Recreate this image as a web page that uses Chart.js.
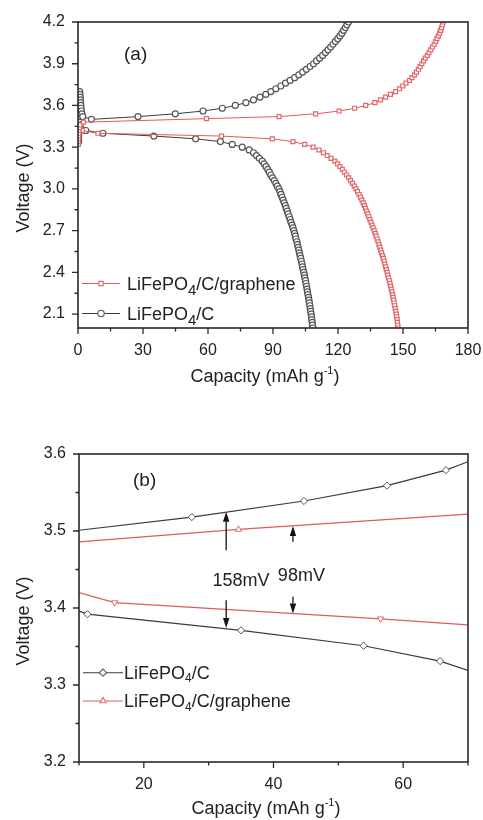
<!DOCTYPE html>
<html><head><meta charset="utf-8">
<script src="https://cdn.jsdelivr.net/npm/chart.js@4.4.0/dist/chart.umd.min.js"></script>
<style>
html,body{margin:0;padding:0;background:#fff;}
#wrap{position:relative;width:483px;height:820px;overflow:hidden;background:#fff;}
canvas{position:absolute;left:0;display:block;}
#ca{top:0;}
#cb{top:400px;}
</style></head><body>
<div id="wrap">
<canvas id="ca" width="483" height="400"></canvas>
<canvas id="cb" width="483" height="420"></canvas>
</div>
<script>
// ---------------- Panel (a) data ----------------
const aXTicks = [0, 30, 60, 90, 120, 150, 180];
const aXMinor = [15, 45, 75, 105, 135, 165];
const aYTicks = [2.1, 2.4, 2.7, 3.0, 3.3, 3.6, 3.9, 4.2];
const aYMinor = [2.25, 2.55, 2.85, 3.15, 3.45, 3.75, 4.05];

const aGrapheneChargeCap = [0.2,0.2,0.3,0.3,0.4,0.5,0.7,1.0,2.5,59.3,92.8,109.7,120.5,127.7,132.8,137.0,139.6,142.0,144.2,146.6,148.4,149.9,151.4,153.0,154.2,155.3,156.2,157.1,157.9,158.7,159.5,160.3,161.2,162.0,162.8,163.6,164.4,165.1,165.7,166.3,166.9,167.4,167.8,168.2,168.5];
const aGrapheneChargeV = [3.32,3.34,3.36,3.38,3.40,3.42,3.44,3.46,3.48,3.505,3.52,3.54,3.56,3.58,3.60,3.62,3.64,3.66,3.68,3.70,3.72,3.74,3.76,3.78,3.80,3.82,3.84,3.86,3.88,3.90,3.92,3.94,3.96,3.98,4.00,4.02,4.04,4.06,4.08,4.10,4.12,4.14,4.16,4.18,4.20];

const aGrapheneDischargeCap = [0.4,2.0,9.2,66.2,89.7,99.2,104.6,108.5,111.2,113.3,115.0,116.8,118.6,119.8,120.9,122.0,123.0,124.0,124.9,125.8,126.7,127.5,128.3,129.0,129.7,130.4,131.0,131.6,132.2,132.7,133.2,133.7,134.2,134.7,135.2,135.7,136.2,136.7,137.2,137.6,138.1,138.5,138.9,139.3,139.7,140.1,140.5,140.9,141.3,141.6,142.0,142.3,142.7,143.0,143.3,143.7,144.0,144.3,144.6,144.9,145.2,145.4,145.7,145.9,146.2,146.4,146.7,146.9,147.1,147.3,147.4,147.6,147.7];
const aGrapheneDischargeV = [3.44,3.42,3.40,3.38,3.36,3.34,3.32,3.30,3.28,3.26,3.24,3.22,3.20,3.18,3.16,3.14,3.12,3.10,3.08,3.06,3.04,3.02,3.00,2.98,2.96,2.94,2.92,2.90,2.88,2.86,2.84,2.82,2.80,2.78,2.76,2.74,2.72,2.70,2.68,2.66,2.64,2.62,2.60,2.58,2.56,2.54,2.52,2.50,2.48,2.46,2.44,2.42,2.40,2.38,2.36,2.34,2.32,2.30,2.28,2.26,2.24,2.22,2.20,2.18,2.16,2.14,2.12,2.10,2.08,2.06,2.04,2.02,2.00];

const aCarbonChargeCap = [0.3,0.3,0.3,0.4,0.4,0.4,0.4,0.5,0.5,0.5,0.5,0.6,0.6,0.6,0.6,0.7,0.7,0.7,0.8,0.9,1.0,1.1,1.2,1.3,1.4,1.6,1.8,2.2,6.2,27.7,44.9,57.7,66.6,72.6,77.5,81.0,84.0,86.7,89.0,91.3,93.6,95.8,97.9,100.0,101.9,103.7,105.4,107.1,108.7,110.1,111.5,112.9,114.2,115.4,116.6,117.7,118.8,119.9,120.9,121.8,122.6,123.4,124.1,124.8];
const aCarbonChargeV = [3.34,3.36,3.38,3.40,3.42,3.44,3.46,3.48,3.50,3.52,3.54,3.56,3.58,3.60,3.62,3.64,3.66,3.68,3.70,3.68,3.66,3.64,3.62,3.60,3.58,3.56,3.54,3.52,3.50,3.52,3.54,3.56,3.58,3.60,3.62,3.64,3.66,3.68,3.70,3.72,3.74,3.76,3.78,3.80,3.82,3.84,3.86,3.88,3.90,3.92,3.94,3.96,3.98,4.00,4.02,4.04,4.06,4.08,4.10,4.12,4.14,4.16,4.18,4.20];

const aCarbonDischargeCap = [0.3,1.2,3.6,11.5,35.0,54.3,65.7,71.2,75.8,79.0,81.0,82.4,83.7,85.0,85.9,86.8,87.6,88.3,89.0,89.8,90.6,91.3,92.0,92.7,93.2,93.7,94.2,94.7,95.2,95.7,96.1,96.6,97.0,97.5,97.9,98.3,98.8,99.2,99.6,100.0,100.3,100.6,101.0,101.3,101.6,101.9,102.2,102.5,102.8,103.1,103.4,103.6,103.9,104.2,104.5,104.7,105.0,105.2,105.5,105.7,105.9,106.1,106.4,106.6,106.8,107.0,107.2,107.4,107.6,107.8,107.9,108.1,108.2,108.4];
const aCarbonDischargeV = [3.46,3.44,3.42,3.40,3.38,3.36,3.34,3.32,3.30,3.28,3.26,3.24,3.22,3.20,3.18,3.16,3.14,3.12,3.10,3.08,3.06,3.04,3.02,3.00,2.98,2.96,2.94,2.92,2.90,2.88,2.86,2.84,2.82,2.80,2.78,2.76,2.74,2.72,2.70,2.68,2.66,2.64,2.62,2.60,2.58,2.56,2.54,2.52,2.50,2.48,2.46,2.44,2.42,2.40,2.38,2.36,2.34,2.32,2.30,2.28,2.26,2.24,2.22,2.20,2.18,2.16,2.14,2.12,2.10,2.08,2.06,2.04,2.02,2.00];

// ---------------- Panel (b) data ----------------
const bXTicks = [20, 40, 60];
const bXMinor = [10, 30, 50, 70];
const bYTicks = [3.2, 3.3, 3.4, 3.5, 3.6];
const bYMinor = [3.25, 3.35, 3.45, 3.55];

const bCarbonChargeCap = [10, 27.4, 44.7, 57.5, 66.6, 70];
const bCarbonChargeV = [3.501, 3.518, 3.539, 3.559, 3.579, 3.590];
const bCarbonDischargeCap = [10, 11.3, 35.0, 53.9, 65.7, 70];
const bCarbonDischargeV = [3.396, 3.392, 3.371, 3.351, 3.331, 3.319];
const bGrapheneChargeCap = [10, 34.6, 70];
const bGrapheneChargeV = [3.486, 3.502, 3.522];
const bGrapheneDischargeCap = [10, 15.5, 56.5, 70];
const bGrapheneDischargeV = [3.420, 3.407, 3.386, 3.378];

const bArrowCap = [32.7, 32.7, 43.0, 43.0];
const bArrowFromV = [3.475, 3.410, 3.486, 3.4145];
const bArrowToV = [3.525, 3.374, 3.5065, 3.393];
const bNoteText = ['158mV', '98mV'];
const bNoteCap = [35.0, 44.3];
const bNoteV = [3.428, 3.435];

// ---------------- styles ----------------
const FONT = "'Liberation Sans', Arimo, Arial, Helvetica, sans-serif";
const TXT = '#222';
const BLACK_LINE = '#3a3a3a', BLACK_MARK = '#555';
const RED_LINE = '#e05a5a', RED_MARK = '#e06a6a';

function pts(xs, ys) { return xs.map((x, i) => ({ x: x, y: ys[i] })); }

function ds(label, xs, ys, line, mark, style, radius, rot) {
  return {
    label: label, data: pts(xs, ys), showLine: true, fill: false, tension: 0,
    borderColor: line, borderWidth: 1,
    pointStyle: style, pointRadius: radius, pointRotation: rot || 0,
    pointBorderColor: mark, pointBackgroundColor: '#fff', pointBorderWidth: 1.2,
    pointHoverRadius: 0
  };
}

function setTicks(list) { return s => { s.ticks = list.map(v => ({ value: v })); }; }

function drawSubText(ctx, x, y, main, sub, rest, size, subSize, subDrop) {
  ctx.font = size + 'px ' + FONT;
  ctx.fillText(main, x, y);
  let w = ctx.measureText(main).width;
  ctx.font = subSize + 'px ' + FONT;
  ctx.fillText(sub, x + w, y + subDrop);
  w += ctx.measureText(sub).width;
  ctx.font = size + 'px ' + FONT;
  ctx.fillText(rest, x + w, y);
}

function makeDecor(cfg) {
  return {
    id: 'decor',
    afterDraw(chart) {
      const ctx = chart.ctx;
      const ca = chart.chartArea;
      const xs = chart.scales.x, ys = chart.scales.y;
      ctx.save();
      // frame
      ctx.strokeStyle = '#2a2a2a';
      ctx.lineWidth = 1.6;
      ctx.strokeRect(ca.left, ca.top, ca.right - ca.left, ca.bottom - ca.top);
      // ticks
      ctx.lineWidth = 1.3;
      ctx.beginPath();
      cfg.xMajor.forEach(v => { const p = xs.getPixelForValue(v); ctx.moveTo(p, ca.bottom); ctx.lineTo(p, ca.bottom + 6); });
      cfg.xMinor.forEach(v => { const p = xs.getPixelForValue(v); ctx.moveTo(p, ca.bottom); ctx.lineTo(p, ca.bottom + 3.5); });
      cfg.yMajor.forEach(v => { const p = ys.getPixelForValue(v); ctx.moveTo(ca.left, p); ctx.lineTo(ca.left - 6, p); });
      cfg.yMinor.forEach(v => { const p = ys.getPixelForValue(v); ctx.moveTo(ca.left, p); ctx.lineTo(ca.left - 3.5, p); });
      ctx.stroke();

      ctx.fillStyle = TXT;
      ctx.textBaseline = 'alphabetic';
      ctx.textAlign = 'left';
      // panel label
      ctx.font = '19px ' + FONT;
      ctx.fillText(cfg.panel, cfg.panelX, cfg.panelY);

      // x title with superscript
      const fs = 18;
      ctx.font = fs + 'px ' + FONT;
      const t1 = 'Capacity (mAh g', t2 = '-1', t3 = ')';
      const w1 = ctx.measureText(t1).width, w3 = ctx.measureText(t3).width;
      ctx.font = '11px ' + FONT;
      const w2 = ctx.measureText(t2).width;
      let x0 = cfg.xTitleCx - (w1 + w2 + w3) / 2;
      ctx.font = fs + 'px ' + FONT;
      ctx.fillText(t1, x0, cfg.xTitleY);
      ctx.font = '11px ' + FONT;
      ctx.fillText(t2, x0 + w1, cfg.xTitleY - 8);
      ctx.font = fs + 'px ' + FONT;
      ctx.fillText(t3, x0 + w1 + w2, cfg.xTitleY);

      // y title
      ctx.save();
      ctx.translate(cfg.yTitleX, cfg.yTitleCy);
      ctx.rotate(-Math.PI / 2);
      ctx.textAlign = 'center';
      ctx.textBaseline = 'middle';
      ctx.font = fs + 'px ' + FONT;
      ctx.fillText('Voltage (V)', 0, 0);
      ctx.restore();

      // legend
      cfg.legend.forEach(item => {
        const d = chart.data.datasets[item.ds];
        ctx.strokeStyle = d.borderColor;
        ctx.lineWidth = 1.1;
        ctx.beginPath();
        ctx.moveTo(cfg.legX0, item.y); ctx.lineTo(cfg.legX1, item.y);
        ctx.stroke();
        ctx.fillStyle = '#fff';
        ctx.strokeStyle = d.pointBorderColor;
        Chart.helpers.drawPoint(ctx, {
          pointStyle: d.pointStyle, radius: item.r, rotation: d.pointRotation || 0, borderWidth: 1.2
        }, cfg.legMarkX, item.y);
        ctx.fillStyle = TXT;
        ctx.textAlign = 'left';
        ctx.textBaseline = 'alphabetic';
        drawSubText(ctx, cfg.legTextX, item.y + cfg.legBaseOff, 'LiFePO', '4', item.rest, 18, cfg.subSize, cfg.subDrop);
      });

      // arrows and notes
      if (cfg.arrows) {
        ctx.strokeStyle = '#111';
        ctx.fillStyle = '#111';
        ctx.lineWidth = 1.3;
        cfg.arrows.cap.forEach((c, i) => {
          const px = xs.getPixelForValue(c);
          const y0 = ys.getPixelForValue(cfg.arrows.from[i]);
          const y1 = ys.getPixelForValue(cfg.arrows.to[i]);
          const dir = Math.sign(y1 - y0), head = 10, hw = 3.2;
          ctx.beginPath(); ctx.moveTo(px, y0); ctx.lineTo(px, y1 - dir * head); ctx.stroke();
          ctx.beginPath(); ctx.moveTo(px, y1); ctx.lineTo(px - hw, y1 - dir * head); ctx.lineTo(px + hw, y1 - dir * head); ctx.closePath(); ctx.fill();
        });
        ctx.fillStyle = TXT;
        ctx.textAlign = 'center';
        ctx.textBaseline = 'alphabetic';
        ctx.font = '18px ' + FONT;
        cfg.notes.text.forEach((t, i) => {
          ctx.fillText(t, xs.getPixelForValue(cfg.notes.cap[i]), ys.getPixelForValue(cfg.notes.v[i]));
        });
      }
      ctx.restore();
    }
  };
}

function baseScales(xmin, xmax, ymin, ymax, xt, yt, yw, xh, ydec) {
  return {
    x: {
      type: 'linear', min: xmin, max: xmax,
      afterBuildTicks: setTicks(xt),
      afterFit: s => { s.height = xh; s.paddingLeft = 0; s.paddingRight = 0; },
      grid: { display: true, drawOnChartArea: false, drawTicks: true, tickLength: 6, color: 'rgba(0,0,0,0)' },
      border: { display: false },
      ticks: { font: { family: FONT, size: 16 }, color: TXT, padding: 7, maxRotation: 0, autoSkip: false, callback: v => String(v) }
    },
    y: {
      type: 'linear', min: ymin, max: ymax,
      afterBuildTicks: setTicks(yt),
      afterFit: s => { s.width = yw; s.paddingTop = 0; s.paddingBottom = 0; },
      grid: { display: true, drawOnChartArea: false, drawTicks: true, tickLength: 6, color: 'rgba(0,0,0,0)' },
      border: { display: false },
      ticks: { font: { family: FONT, size: 16 }, color: TXT, padding: 7, autoSkip: false, callback: v => Number(v).toFixed(ydec) }
    }
  };
}

// ---------------- Chart (a) ----------------
new Chart(document.getElementById('ca'), {
  type: 'scatter',
  data: {
    datasets: [
      ds('LiFePO4/C/graphene', aGrapheneChargeCap, aGrapheneChargeV, RED_LINE, RED_MARK, 'rect', 2.8),
      ds('LiFePO4/C/graphene discharge', aGrapheneDischargeCap, aGrapheneDischargeV, RED_LINE, RED_MARK, 'rect', 2.8),
      ds('LiFePO4/C', aCarbonChargeCap, aCarbonChargeV, BLACK_LINE, BLACK_MARK, 'circle', 3),
      ds('LiFePO4/C discharge', aCarbonDischargeCap, aCarbonDischargeV, BLACK_LINE, BLACK_MARK, 'circle', 3)
    ]
  },
  options: {
    responsive: false, animation: false, events: [],
    layout: { autoPadding: false, padding: { left: 0, right: 15, top: 22, bottom: 0 } },
    plugins: { legend: { display: false }, tooltip: { enabled: false } },
    scales: baseScales(0, 180, 2.0, 4.2, aXTicks, aYTicks, 78, 72, 1)
  },
  plugins: [makeDecor({
    xMajor: aXTicks, xMinor: aXMinor, yMajor: aYTicks, yMinor: aYMinor,
    panel: '(a)', panelX: 124, panelY: 60,
    xTitleCx: 265, xTitleY: 382, yTitleX: 24, yTitleCy: 188,
    legX0: 82, legX1: 120, legMarkX: 101, legTextX: 127, legBaseOff: 6.5, subSize: 15, subDrop: 5,
    legend: [
      { ds: 0, y: 283.5, rest: '/C/graphene', r: 3 },
      { ds: 2, y: 313.5, rest: '/C', r: 3.2 }
    ]
  })]
});

// ---------------- Chart (b) ----------------
const bMin = 10, bMax = 70;
function bRadius(ctx) { const r = ctx.raw; return (r && (r.x <= bMin || r.x >= bMax)) ? 0 : 3.6; }
const bSets = [
  ds('LiFePO4/C', bCarbonChargeCap, bCarbonChargeV, BLACK_LINE, BLACK_MARK, 'rectRot', bRadius),
  ds('LiFePO4/C discharge', bCarbonDischargeCap, bCarbonDischargeV, BLACK_LINE, BLACK_MARK, 'rectRot', bRadius),
  ds('LiFePO4/C/graphene', bGrapheneChargeCap, bGrapheneChargeV, RED_LINE, RED_MARK, 'triangle', bRadius),
  ds('LiFePO4/C/graphene discharge', bGrapheneDischargeCap, bGrapheneDischargeV, RED_LINE, RED_MARK, 'triangle', bRadius, 180)
];
bSets.forEach(d => { d.borderWidth = 1.2; d.pointBorderWidth = 1; });
new Chart(document.getElementById('cb'), {
  type: 'scatter',
  data: { datasets: bSets },
  options: {
    responsive: false, animation: false, events: [],
    layout: { autoPadding: false, padding: { left: 0, right: 15, top: 54, bottom: 0 } },
    plugins: { legend: { display: false }, tooltip: { enabled: false } },
    scales: baseScales(bMin, bMax, 3.2, 3.6, bXTicks, bYTicks, 79, 58, 1)
  },
  plugins: [makeDecor({
    xMajor: bXTicks, xMinor: bXMinor, yMajor: bYTicks, yMinor: bYMinor,
    panel: '(b)', panelX: 133, panelY: 86,
    xTitleCx: 266, xTitleY: 414, yTitleX: 24, yTitleCy: 221,
    legX0: 83, legX1: 123, legMarkX: 103, legTextX: 124, legBaseOff: 6, subSize: 12, subDrop: 3.5,
    legend: [
      { ds: 0, y: 272.7, rest: '/C', r: 3.6 },
      { ds: 2, y: 301, rest: '/C/graphene', r: 3.6 }
    ],
    arrows: { cap: bArrowCap, from: bArrowFromV, to: bArrowToV },
    notes: { text: bNoteText, cap: bNoteCap, v: bNoteV }
  })]
});
</script>
</body></html>
